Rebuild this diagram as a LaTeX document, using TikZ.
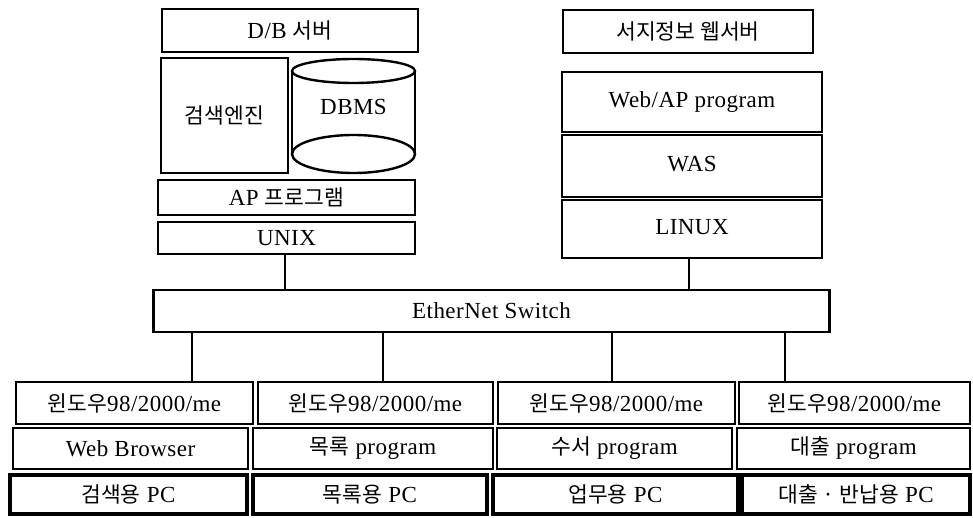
\documentclass[tikz,border=0pt]{standalone}
\usepackage{fontspec}
\setmainfont[LetterSpace=2]{Liberation Serif}
\newfontfamily\krfont{Noto Sans CJK KR}
\newcommand\kor[1]{{\krfont\fontsize{21.5}{24}\selectfont #1}}
\begin{document}
\begin{tikzpicture}[x=1pt,y=-1pt,
  box/.style={draw, line width=2.4pt, rectangle, inner sep=0pt, font=\fontsize{23}{26}\selectfont},
  heavy/.style={box, line width=3.2pt},
  link/.style={draw, line width=2.6pt}]
\useasboundingbox (0,0) rectangle (973,518);
% left server
\node[box, minimum width=256, minimum height=43] (dbsrv) at (290,30.5) {D/B \kor{서버}};
\node[box, minimum width=127, minimum height=115] (engine) at (224.5,115.5) {\kor{검색엔진}};
\draw[line width=2.4pt] (292,71) -- (292,154) (415,71) -- (415,154);
\draw[line width=2.4pt, fill=white] (353.5,154) ellipse [x radius=61.5, y radius=19];
\draw[line width=2.4pt, fill=white] (353.5,71) ellipse [x radius=61.5, y radius=12];
\node[font=\fontsize{23}{26}\selectfont] (dbms) at (353.5,107) {DBMS};
\node[box, minimum width=257, minimum height=35] (ap) at (286.5,197.5) {AP \kor{프로그램}};
\node[box, minimum width=257, minimum height=32] (unix) at (286.5,238) {UNIX};
% right server
\node[box, minimum width=250, minimum height=43] (websrv) at (688,31.5) {\kor{서지정보 웹서버}};
\node[box, minimum width=260, minimum height=60] (webap) at (692,102) {\raisebox{4pt}{Web/AP program}};
\node[box, minimum width=260, minimum height=62] (was) at (692,166) {\raisebox{5pt}{WAS}};
\node[box, minimum width=260, minimum height=58] (linux) at (692,229) {\raisebox{5pt}{LINUX}};
% switch
\node[box, minimum width=676, minimum height=42] (sw) at (491.5,311) {EtherNet Switch};
% bottom row 1
\node[box, minimum width=237, minimum height=42] (w1) at (134.5,403) {\kor{윈도우}98/2000/me};
\node[box, minimum width=235, minimum height=42] (w2) at (375.5,403) {\kor{윈도우}98/2000/me};
\node[box, minimum width=237, minimum height=42] (w3) at (616.5,403) {\kor{윈도우}98/2000/me};
\node[box, minimum width=231, minimum height=42] (w4) at (854.5,403) {\kor{윈도우}98/2000/me};
% row 2
\node[box, minimum width=235, minimum height=41] (p1) at (130.5,448.5) {Web Browser};
\node[box, minimum width=240, minimum height=41] (p2) at (373,448.5) {\kor{목록} program};
\node[box, minimum width=235, minimum height=41] (p3) at (614.5,448.5) {\kor{수서} program};
\node[box, minimum width=233, minimum height=41] (p4) at (853.5,448.5) {\kor{대출} program};
% row 3
\node[heavy, minimum width=237, minimum height=39] (c1) at (128.5,494.5) {\kor{검색용} PC};
\node[heavy, minimum width=234, minimum height=39] (c2) at (370,494.5) {\kor{목록용} PC};
\node[heavy, minimum width=245, minimum height=39] (c3) at (615.5,494.5) {\kor{업무용} PC};
\node[heavy, minimum width=228, minimum height=39] (c4) at (856,494.5) {\kor{대출 · 반납용} PC};
% connectors
\coordinate (x1) at (192,0);
\coordinate (x2) at (383,0);
\coordinate (x3) at (612,0);
\coordinate (x4) at (785,0);
\coordinate (xl) at (285,0);
\coordinate (xr) at (689,0);
\draw[link] (unix.south -| xl) -- (sw.north -| xl);
\draw[link] (linux.south -| xr) -- (sw.north -| xr);
\draw[link] (sw.south -| x1) -- (w1.north -| x1);
\draw[link] (sw.south -| x2) -- (w2.north -| x2);
\draw[link] (sw.south -| x3) -- (w3.north -| x3);
\draw[link] (sw.south -| x4) -- (w4.north -| x4);
\end{tikzpicture}
\end{document}
